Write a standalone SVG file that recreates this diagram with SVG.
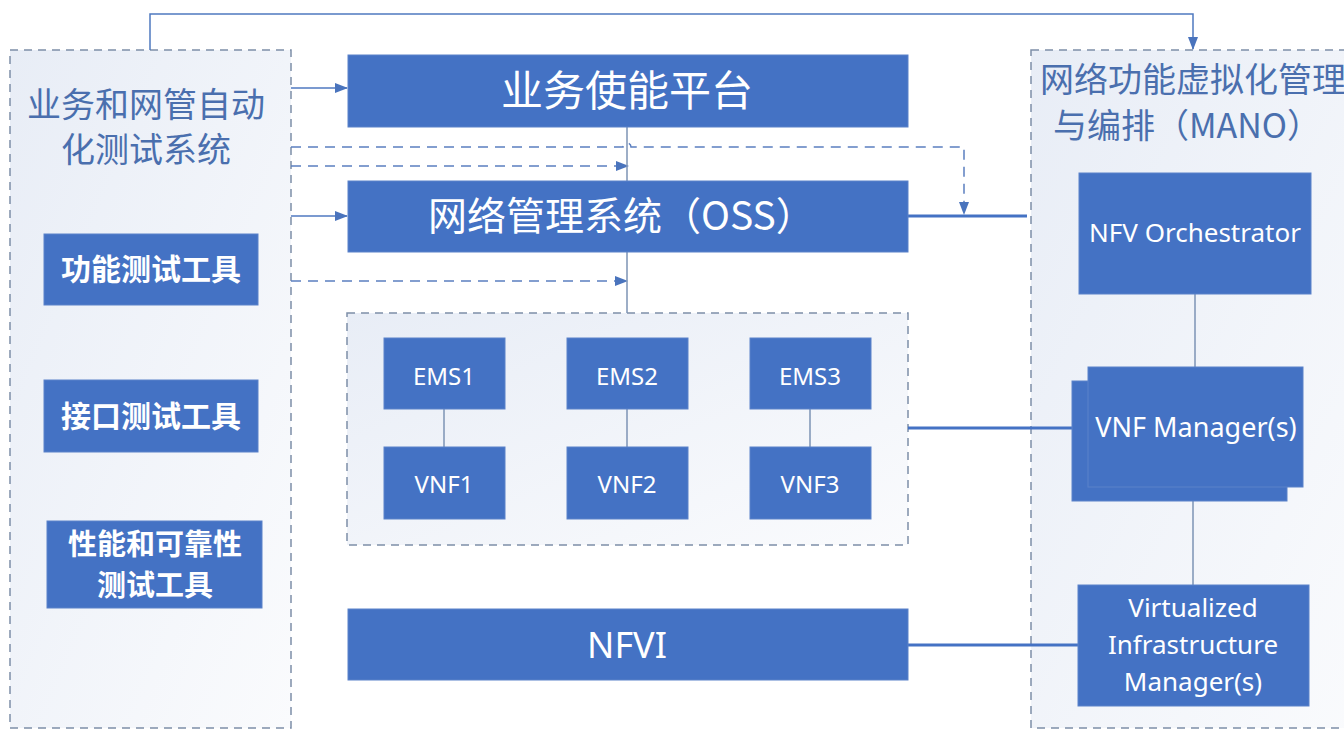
<svg xmlns="http://www.w3.org/2000/svg" width="1344" height="731" viewBox="0 0 1344 731">
  <style>
    .zone { stroke: #7d8fa8; stroke-width: 1.5; stroke-dasharray: 8 6; }
    .box { fill: #4472c4; stroke: #5b82c9; stroke-width: 1; }
    .title { font-family: "Noto Sans CJK SC", "Noto Sans", sans-serif; fill: #4a6fae; font-size: 34px; }
    .cn { font-family: "Noto Sans CJK SC", "Noto Sans", sans-serif; fill: #ffffff; }
    .en { font-family: "Noto Sans", "Open Sans", "Noto Sans CJK SC", sans-serif; fill: #ffffff; }
    .thin { stroke: #7d93b5; stroke-width: 1.5; fill: none; }
    .thick { stroke: #4472c4; stroke-width: 3; fill: none; }
    .solid { stroke: #4f79c0; stroke-width: 1.5; fill: none; }
    .dash { stroke: #5b7fc0; stroke-width: 1.5; stroke-dasharray: 10 7; fill: none; }
  </style>
  <defs>
    <linearGradient id="zoneFill" x1="0" y1="0" x2="1" y2="1">
      <stop offset="0" stop-color="#e8edf6"/>
      <stop offset="1" stop-color="#fafbfd"/>
    </linearGradient>
    <marker id="arrow" markerUnits="userSpaceOnUse" markerWidth="13" markerHeight="10" refX="12" refY="5" orient="auto">
      <path d="M0,0 L13,5 L0,10 z" fill="#4a74bd"/>
    </marker>
  </defs>

  <rect width="1344" height="731" fill="#ffffff"/>

  <!-- automated test system -->
  <g id="test-system">
    <rect class="zone" x="10" y="50" width="281" height="678" fill="url(#zoneFill)"/>
    <text class="title" x="146" y="117" text-anchor="middle">业务和网管自动</text>
    <text class="title" x="146" y="162" text-anchor="middle">化测试系统</text>
  </g>
  <g id="func-test">
    <rect class="box" x="44" y="234" width="214" height="71"/>
    <text class="cn" x="151" y="280" font-size="30" font-weight="bold" text-anchor="middle">功能测试工具</text>
  </g>
  <g id="iface-test">
    <rect class="box" x="44" y="380" width="214" height="72"/>
    <text class="cn" x="151" y="427" font-size="30" font-weight="bold" text-anchor="middle">接口测试工具</text>
  </g>
  <g id="perf-test">
    <rect class="box" x="47" y="521" width="215" height="87"/>
    <text class="cn" x="155" y="555" font-size="29" font-weight="bold" text-anchor="middle">性能和可靠性</text>
    <text class="cn" x="155" y="596" font-size="29" font-weight="bold" text-anchor="middle">测试工具</text>
  </g>

  <!-- MANO -->
  <g id="mano">
    <rect class="zone" x="1031" y="50" width="340" height="678" fill="url(#zoneFill)"/>
    <text class="title" x="1040" y="92">网络功能虚拟化管理</text>
    <text class="title" x="1187" y="138" text-anchor="middle">与编排（MANO）</text>
  </g>

  <!-- EMS / VNF group -->
  <g id="vnf-domain">
    <rect class="zone" x="347" y="313" width="561" height="232" fill="url(#zoneFill)"/>
  </g>

  <!-- connectors -->
  <g id="connectors">
    <path class="solid" d="M150,50 V14 H1193 V49" marker-end="url(#arrow)"/>
    <path class="solid" d="M291,88 H347" marker-end="url(#arrow)"/>
    <path class="solid" d="M291,216 H347" marker-end="url(#arrow)"/>
    <path class="dash" d="M291,147 H623 a4,4 0 0 1 8,0 H964 V214" marker-end="url(#arrow)"/>
    <path class="dash" d="M291,166 H628" marker-end="url(#arrow)"/>
    <path class="dash" d="M291,281 H627" marker-end="url(#arrow)"/>
    <path class="thin" d="M627,127 V181"/>
    <path class="thin" d="M627,252 V313"/>
    <path class="thin" d="M444,409 V447"/>
    <path class="thin" d="M627,409 V447"/>
    <path class="thin" d="M810,409 V447"/>
    <path class="thin" d="M1195,294 V367"/>
    <path class="thin" d="M1193,501 V585"/>
    <path class="thick" d="M908,216 H1027"/>
    <path class="thick" d="M908,428 H1072"/>
    <path class="thick" d="M908,645 H1078"/>
  </g>

  <g id="service-platform">
    <rect class="box" x="348" y="55" width="560" height="72"/>
    <text class="cn" x="627" y="106" font-size="42" text-anchor="middle">业务使能平台</text>
  </g>
  <g id="oss">
    <rect class="box" x="348" y="181" width="560" height="71"/>
    <text class="cn" x="428" y="230" font-size="39">网络管理系统（OSS）</text>
  </g>

  <g id="ems1">
    <rect class="box" x="384" y="338" width="121" height="71"/>
    <text class="en" x="444" y="385" font-size="24" text-anchor="middle">EMS1</text>
  </g>
  <g id="ems2">
    <rect class="box" x="567" y="338" width="121" height="71"/>
    <text class="en" x="627" y="385" font-size="24" text-anchor="middle">EMS2</text>
  </g>
  <g id="ems3">
    <rect class="box" x="750" y="338" width="121" height="71"/>
    <text class="en" x="810" y="385" font-size="24" text-anchor="middle">EMS3</text>
  </g>
  <g id="vnf1">
    <rect class="box" x="384" y="447" width="121" height="72"/>
    <text class="en" x="444" y="493" font-size="24" text-anchor="middle">VNF1</text>
  </g>
  <g id="vnf2">
    <rect class="box" x="567" y="447" width="121" height="72"/>
    <text class="en" x="627" y="493" font-size="24" text-anchor="middle">VNF2</text>
  </g>
  <g id="vnf3">
    <rect class="box" x="750" y="447" width="121" height="72"/>
    <text class="en" x="810" y="493" font-size="24" text-anchor="middle">VNF3</text>
  </g>

  <g id="nfvi">
    <rect class="box" x="348" y="609" width="560" height="71"/>
    <text class="en" x="627" y="658" font-size="36" text-anchor="middle">NFVI</text>
  </g>

  <g id="nfvo">
    <rect class="box" x="1079" y="173" width="232" height="121"/>
    <text class="en" x="1195" y="242" font-size="26" text-anchor="middle">NFV Orchestrator</text>
  </g>
  <g id="vnfm">
    <rect class="box" x="1072" y="381" width="215" height="120"/>
    <rect class="box" x="1088" y="367" width="215" height="120" stroke="#8aa6d8" stroke-width="1.5"/>
    <text class="en" x="1196" y="437" font-size="27" text-anchor="middle">VNF Manager(s)</text>
  </g>
  <g id="vim">
    <rect class="box" x="1078" y="585" width="231" height="121"/>
    <text class="en" x="1193" y="617" font-size="26" text-anchor="middle">Virtualized</text>
    <text class="en" x="1193" y="654" font-size="26" text-anchor="middle">Infrastructure</text>
    <text class="en" x="1193" y="691" font-size="26" text-anchor="middle">Manager(s)</text>
  </g>
</svg>
